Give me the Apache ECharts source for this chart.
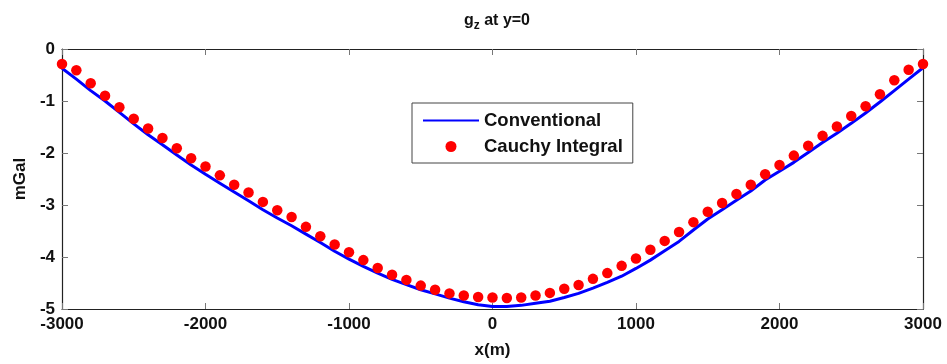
<!DOCTYPE html>
<html>
<head>
<meta charset="utf-8">
<script src="https://cdn.jsdelivr.net/npm/echarts@6/dist/echarts.min.js"></script>
<style>
html,body{margin:0;padding:0;background:#fff;}
#chart{width:947px;height:364px;}
</style>
</head>
<body>
<div id="chart"></div>
<script>
// x positions (m)
const xValues = [-3000,-2900,-2800,-2700,-2600,-2500,-2400,-2300,-2200,-2100,
  -2000,-1900,-1800,-1700,-1600,-1500,-1400,-1300,-1200,-1100,
  -1000,-900,-800,-700,-600,-500,-400,-300,-200,-100,
  0,100,200,300,400,500,600,700,800,900,
  1000,1100,1200,1300,1400,1500,1600,1700,1800,1900,
  2000,2100,2200,2300,2400,2500,2600,2700,2800,2900,3000];

// Conventional (line), mGal
const conventional = [-0.37,-0.58,-0.80,-1.00,-1.22,-1.44,-1.65,-1.84,-2.04,-2.23,
  -2.41,-2.58,-2.75,-2.92,-3.09,-3.25,-3.40,-3.56,-3.72,-3.89,
  -4.04,-4.18,-4.31,-4.43,-4.53,-4.63,-4.71,-4.79,-4.86,-4.92,
  -4.95,-4.95,-4.93,-4.89,-4.85,-4.78,-4.70,-4.60,-4.49,-4.37,
  -4.22,-4.06,-3.88,-3.70,-3.48,-3.27,-3.09,-2.91,-2.73,-2.52,
  -2.35,-2.18,-1.99,-1.80,-1.62,-1.43,-1.23,-1.02,-0.80,-0.58,-0.36];

// Cauchy Integral (dots), mGal
const cauchy = [-0.29,-0.41,-0.66,-0.90,-1.12,-1.34,-1.53,-1.71,-1.91,-2.10,
  -2.26,-2.43,-2.61,-2.76,-2.94,-3.10,-3.23,-3.42,-3.60,-3.76,
  -3.91,-4.06,-4.21,-4.34,-4.44,-4.55,-4.63,-4.70,-4.74,-4.77,
  -4.78,-4.79,-4.78,-4.74,-4.69,-4.61,-4.54,-4.42,-4.31,-4.17,
  -4.03,-3.86,-3.69,-3.52,-3.33,-3.13,-2.96,-2.79,-2.61,-2.41,
  -2.23,-2.05,-1.86,-1.67,-1.49,-1.29,-1.10,-0.87,-0.60,-0.40,-0.29];

const seriesNames = ['Conventional', 'Cauchy Integral'];

const pair = (xs, ys) => xs.map((x, i) => [x, ys[i]]);

const FONT = 'Liberation Sans';
const FS = 17;
const chart = echarts.init(document.getElementById('chart'), null, {renderer: 'canvas'});

const tickStyle = {show: true, inside: true, length: 6, lineStyle: {color: '#777', width: 1}};
const axisLineStyle = {show: true, onZero: false, lineStyle: {color: '#222', width: 1.2}};
const labelFmt = v => String(v);

chart.setOption({
  animation: false,
  backgroundColor: '#fff',
  title: {
    text: '{a|g}{s|z}{a| at y=0}',
    left: 492, textAlign: 'center', top: 6,
    textStyle: {
      rich: {
        a: {fontFamily: FONT, fontWeight: 'bold', fontSize: 16, color: '#111', lineHeight: 20},
        s: {fontFamily: FONT, fontWeight: 'bold', fontSize: 12, color: '#111', lineHeight: 20, padding: [9, 0, 0, 0]}
      }
    }
  },
  grid: {left: 62, right: 24, top: 49, bottom: 53, show: false},
  legend: {
    orient: 'vertical',
    left: 412, top: 103,
    padding: [8, 10, 7, 10],
    itemGap: 7,
    itemWidth: 56, itemHeight: 11,
    borderColor: '#444', borderWidth: 1, backgroundColor: '#fff',
    textStyle: {fontFamily: FONT, fontWeight: 'bold', fontSize: 18.5, color: '#111'},
    data: [
      {name: seriesNames[0], itemStyle: {opacity: 0}},
      {name: seriesNames[1], icon: 'circle'}
    ]
  },
  xAxis: [{
    type: 'value', min: -3000, max: 3000, interval: 1000,
    position: 'bottom',
    name: 'x(m)', nameLocation: 'middle', nameGap: 33,
    nameTextStyle: {fontFamily: FONT, fontWeight: 'bold', fontSize: FS, color: '#111'},
    axisLine: axisLineStyle, axisTick: tickStyle,
    axisLabel: {fontFamily: FONT, fontWeight: 'bold', fontSize: FS, color: '#111', margin: 7, formatter: labelFmt},
    splitLine: {show: false}
  }, {
    type: 'value', min: -3000, max: 3000, interval: 1000,
    position: 'top',
    axisLine: axisLineStyle, axisTick: tickStyle,
    axisLabel: {show: false}, splitLine: {show: false}
  }],
  yAxis: [{
    type: 'value', min: -5, max: 0, interval: 1,
    position: 'left',
    name: 'mGal', nameLocation: 'middle', nameGap: 29, nameRotate: 90,
    nameTextStyle: {fontFamily: FONT, fontWeight: 'bold', fontSize: FS, color: '#111'},
    axisLine: axisLineStyle, axisTick: tickStyle,
    axisLabel: {fontFamily: FONT, fontWeight: 'bold', fontSize: FS, color: '#111', margin: 7, formatter: labelFmt},
    splitLine: {show: false}
  }, {
    type: 'value', min: -5, max: 0, interval: 1,
    position: 'right',
    axisLine: axisLineStyle, axisTick: tickStyle,
    axisLabel: {show: false}, splitLine: {show: false}
  }],
  series: [{
    name: seriesNames[0],
    type: 'line',
    data: pair(xValues, conventional),
    showSymbol: false, symbol: 'none',
    smooth: false,
    lineStyle: {color: '#0000ff', width: 3},
    itemStyle: {color: '#0000ff'},
    z: 2
  }, {
    name: seriesNames[1],
    type: 'scatter',
    data: pair(xValues, cauchy),
    symbol: 'circle', symbolSize: 10.5,
    itemStyle: {color: '#ff0000', opacity: 1},
    z: 3
  }]
});
</script>
</body>
</html>
